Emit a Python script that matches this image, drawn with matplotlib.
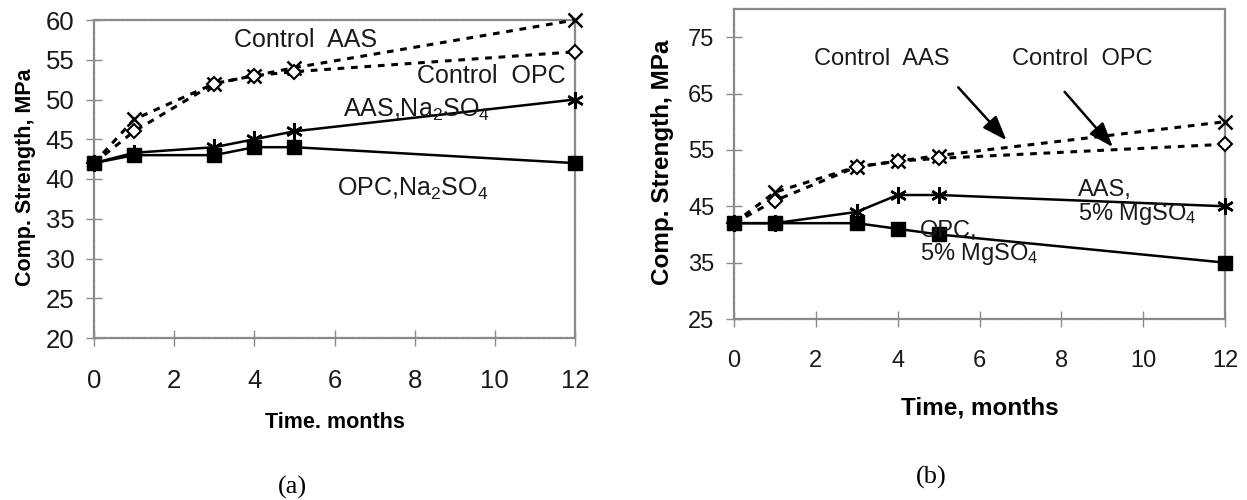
import matplotlib
matplotlib.use("Agg")
import matplotlib.pyplot as plt

plt.rcParams['font.family'] = ['Liberation Sans', 'DejaVu Sans']
plt.rcParams['mathtext.fontset'] = 'custom'
plt.rcParams['mathtext.rm'] = 'Liberation Sans'
plt.rcParams['mathtext.it'] = 'Liberation Sans'

# ---- data ----
months = [0, 1, 3, 4, 5, 12]
xticks = [0, 2, 4, 6, 8, 10, 12]

a_control_aas = [42, 47.5, 52, 53, 54, 60]
a_control_opc = [42, 46, 52, 53, 53.5, 56]
a_aas_na2so4 = [42, 43.3, 44, 45, 46, 50]
a_opc_na2so4 = [42, 43, 43, 44, 44, 42]
a_yticks = [20, 25, 30, 35, 40, 45, 50, 55, 60]

b_control_aas = [42, 47.5, 52, 53, 54, 60]
b_control_opc = [42, 46, 52, 53, 53.5, 56]
b_aas_mgso4 = [42, 42, 44, 47, 47, 45]
b_opc_mgso4 = [42, 42, 42, 41, 40, 35]
b_yticks = [25, 35, 45, 55, 65, 75]

W, H = 1247, 500
fig = plt.figure(figsize=(W / 100, H / 100), dpi=100)

def px_axes(l, r, t, b):
    return fig.add_axes([l / W, 1 - b / H, (r - l) / W, (b - t) / H])

FRAME = '#8a8a8a'
asterisk = (6, 2, 0)

def style(ax, ylim, yticks, fs):
    ax.set_xlim(0, 12)
    ax.set_ylim(*ylim)
    ax.set_xticks(xticks)
    ax.set_yticks(yticks)
    for s in ax.spines.values():
        s.set_color(FRAME)
        s.set_linewidth(1.6)
        s.set_linestyle((0, (2, 0.6)))
    ax.tick_params(direction='inout', length=11, width=1.0, color=FRAME,
                   labelsize=fs, labelcolor='#1a1a1a')
    ax.tick_params(axis='x', pad=17)
    ax.tick_params(axis='y', pad=8.5)

def draw(ax, ca, co, s1, s2):
    ax.plot(months, ca, color='black', lw=2.2, ls=(0, (2.2, 2.2)),
            marker='x', ms=10, mew=1.8, clip_on=False, zorder=3)
    ax.plot(months, co, color='black', lw=2.2, ls=(0, (2.2, 2.2)),
            marker='D', ms=7, mfc='white', mew=1.5, clip_on=False, zorder=3)
    ax.plot(months, s1, color='black', lw=1.8, ls='-',
            marker=asterisk, ms=12, mew=1.8, clip_on=False, zorder=3)
    ax.plot(months, s2, color='black', lw=1.8, ls='-',
            marker='s', ms=10, clip_on=False, zorder=3)

# ---- panel (a) ----
axa = px_axes(94, 575, 20, 338)
style(axa, (20, 60), a_yticks, 18.5)
draw(axa, a_control_aas, a_control_opc, a_aas_na2so4, a_opc_na2so4)
axa.set_xlabel('Time. months', fontsize=15.5, fontweight='bold', va='center')
axa.xaxis.set_label_coords(0.5, (338 - 423) / 318)
axa.set_ylabel('Comp. Strength, MPa', fontsize=15.5, fontweight='bold', va='center')
axa.yaxis.set_label_coords((26 - 94) / 481, 0.506)
tka = dict(fontsize=18, color='#1a1a1a', va='center')
axa.text(5.27, 57.5, 'Control  AAS', ha='center', **tka)
axa.text(9.91, 52.9, 'Control  OPC', ha='center', **tka)
axa.text(6.20, 48.7, r'AAS,Na$_{2}$SO$_{4}$', ha='left', **tka)
axa.text(6.05, 38.8, r'OPC,Na$_{2}$SO$_{4}$', ha='left', **tka)
fig.text(292 / W, 1 - 487 / H, '(a)', fontsize=19, family='Liberation Serif',
         ha='center', va='center')

# ---- panel (b) ----
axb = px_axes(734, 1225, 9, 319)
style(axb, (25, 80), b_yticks, 17)
draw(axb, b_control_aas, b_control_opc, b_aas_mgso4, b_opc_mgso4)
axb.set_xlabel('Time, months', fontsize=17.5, fontweight='bold', va='center')
axb.xaxis.set_label_coords(0.5, (319 - 408) / 310)
axb.set_ylabel('Comp. Strength, MPa', fontsize=17.5, fontweight='bold', va='center')
axb.yaxis.set_label_coords((663 - 734) / 491, 0.505)
tkb = dict(fontsize=17, color='#1a1a1a', va='center')
axb.text(3.61, 71.2, 'Control  AAS', ha='center', **tkb)
axb.text(8.50, 71.2, 'Control  OPC', ha='center', **tkb)
axb.text(8.41, 47.8, 'AAS,', ha='left', **tkb)
axb.text(8.41, 43.7, r'5% MgSO$_{4}$', ha='left', **tkb)
axb.text(4.54, 40.7, 'OPC,', ha='left', **tkb)
axb.text(4.54, 36.6, r'5% MgSO$_{4}$', ha='left', **tkb)
arrow = dict(arrowstyle='-|>,head_length=1.5,head_width=0.55', color='black',
             lw=1.8, shrinkA=0, shrinkB=0)
axb.annotate('', xy=(6.66, 56.7), xytext=(5.48, 66.1), arrowprops=arrow)
axb.annotate('', xy=(9.26, 55.5), xytext=(8.08, 65.3), arrowprops=arrow)
fig.text(931 / W, 1 - 477 / H, '(b)', fontsize=19, family='Liberation Serif',
         ha='center', va='center')

fig.savefig('out.png', dpi=100)
